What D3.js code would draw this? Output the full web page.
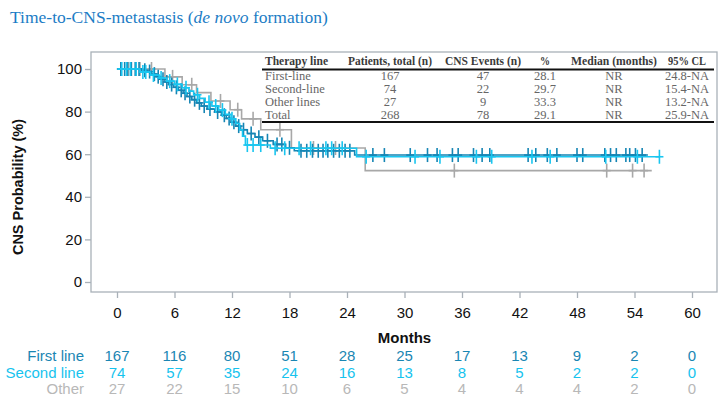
<!DOCTYPE html>
<html><head><meta charset="utf-8">
<script src="https://cdn.jsdelivr.net/npm/d3@7"></script>
<style>
html,body{margin:0;padding:0;background:#fff;}
svg{display:block;}
</style></head>
<body>
<svg id="chart" width="727" height="411"></svg>
<script>
// ---------------- DATA ----------------
const xTicks = [0, 6, 12, 18, 24, 30, 36, 42, 48, 54, 60];
const yTicks = [0, 20, 40, 60, 80, 100];

const seriesNames = ["First line", "Second line", "Other"];

// Kaplan-Meier step points: [month, CNS probability %]
const firstSteps = [[0,100],[2.6,99.4],[3.1,98.8],[3.6,97.6],[4.1,96.4],[4.5,95.2],[5.0,93.9],[5.4,92.7],[5.9,91.4],[6.4,90.0],[6.9,88.6],[7.3,87.1],[7.8,85.6],[8.3,84.1],[8.8,82.6],[9.4,81.2],[10.2,79.8],[10.9,78.3],[11.4,76.8],[11.9,75.0],[12.4,73.2],[12.9,71.5],[13.6,69.7],[14.4,68.0],[15.2,66.3],[16.3,64.6],[17.6,63.0],[18.5,61.6],[24.8,59.6]];
const firstEnd = 55.4;
const secondSteps = [[0,100],[2.4,98.6],[3.5,97.2],[4.4,95.8],[5.2,94.3],[6.0,92.8],[6.8,91.2],[7.5,89.6],[8.0,87.9],[8.6,86.2],[9.2,84.4],[9.9,82.6],[10.6,80.7],[11.3,78.7],[11.9,76.6],[12.4,74.4],[12.8,71.5],[13.1,68.5],[13.4,64.3],[16.0,62.8],[25.0,58.8]];
const secondEnd = 56.6;
const otherSteps = [[0,100],[5.0,96.3],[6.8,92.6],[8.3,88.9],[9.8,85.0],[11.8,80.9],[13.0,76.6],[15.0,71.5],[18.2,62.9],[25.9,52.3]];
const otherEnd = 55.8;

// censoring times (months)
const firstCensor = [0.4,0.8,1.1,1.5,1.9,2.3,2.9,3.4,3.9,4.3,4.8,5.2,5.7,6.2,6.7,7.1,7.6,8.1,8.6,9.1,9.7,10.5,11.2,11.7,12.2,12.7,13.2,14.0,14.8,15.7,16.7,17.2,18.0,19.2,19.8,20.4,21.0,21.5,22.0,22.6,23.2,23.8,24.3,26.7,27.9,30.6,32.4,33.4,35.0,35.6,37.2,38.1,38.9,42.9,43.7,44.9,45.9,48.0,48.6,50.9,51.5,52.1,53.1,53.5,54.1,54.8];
const secondCensor = [0.5,1.0,1.4,2.0,2.7,3.0,3.8,4.6,5.5,6.3,7.2,8.4,9.6,10.3,11.0,12.0,13.6,14.2,15.0,16.5,17.5,19.0,20.2,21.8,22.4,23.5,26.0,31.1,33.7,37.5,39.1,43.3,45.2,51.0,54.3,56.6];
const otherCensor = [1.2,2.4,3.6,5.8,7.8,10.8,12.6,14.2,17.0,20.5,22.8,35.2,51.1,53.8,55.0];

// numbers at risk
const riskFirst = [167,116,80,51,28,25,17,13,9,2,0];
const riskSecond = [74,57,35,24,16,13,8,5,2,2,0];
const riskOther = [27,22,15,10,6,5,4,4,4,2,0];

// summary table
const tableHeaders = ["Therapy line","Patients, total (n)","CNS Events (n)","%","Median (months)","95% CL"];
const tableLines = ["First-line","Second-line","Other lines","Total"];
const tablePatients = ["167","74","27","268"];
const tableEvents = ["47","22","9","78"];
const tablePct = ["28.1","29.7","33.3","29.1"];
const tableMedian = ["NR","NR","NR","NR"];
const tableCL = ["24.8-NA","15.4-NA","13.2-NA","25.9-NA"];

// ---------------- LAYOUT ----------------
const colors = {first:"#1585b4", second:"#19c6f0", other:"#a8a8a8"};
const riskColors = ["#1a86b3","#16c3ee","#b8b8b8"];
const frame = {left:91, top:52, right:717, bottom:292};

const svg = d3.select("#chart");
const x = d3.scaleLinear().domain([0,60]).range([117,692]);
const y = d3.scaleLinear().domain([0,100]).range([282,69]);

// title
const title = svg.append("text").attr("x",10).attr("y",23)
  .attr("font-family","'Liberation Serif', 'DejaVu Serif', serif")
  .attr("font-size",17.5).attr("fill","#1b7cc5");
title.append("tspan").text("Time-to-CNS-metastasis (");
title.append("tspan").attr("font-style","italic").text("de novo");
title.append("tspan").text(" formation)");

// frame
svg.append("rect").attr("x",frame.left).attr("y",frame.top)
  .attr("width",frame.right-frame.left).attr("height",frame.bottom-frame.top)
  .attr("fill","none").attr("stroke","#a9b1b8").attr("stroke-width",1.3);

// axes
const yAxis = svg.append("g").attr("transform",`translate(${frame.left},0)`)
  .call(d3.axisLeft(y).tickValues(yTicks).tickSize(6).tickPadding(3));
const xAxis = svg.append("g").attr("transform",`translate(0,${frame.bottom})`)
  .call(d3.axisBottom(x).tickValues(xTicks).tickSize(6).tickPadding(9));
[yAxis,xAxis].forEach(g=>{
  g.select(".domain").remove();
  g.selectAll(".tick line").attr("stroke","#a9b1b8").attr("stroke-width",1.3);
  g.selectAll(".tick text").attr("font-family","'Liberation Sans', Arial, sans-serif")
    .attr("font-size",15).attr("fill","#111");
});

// axis titles
svg.append("text").attr("transform","translate(23,187) rotate(-90)")
  .attr("text-anchor","middle").attr("font-family","'Liberation Sans', Arial, sans-serif")
  .attr("font-size",14.5).attr("font-weight","bold").attr("fill","#111")
  .text("CNS Probability (%)");
svg.append("text").attr("x",(x(0)+x(60))/2).attr("y",343)
  .attr("text-anchor","middle").attr("font-family","'Liberation Sans', Arial, sans-serif")
  .attr("font-size",15).attr("font-weight","bold").attr("fill","#111")
  .text("Months");

// KM curves
const line = d3.line().x(d=>x(d[0])).y(d=>y(d[1])).curve(d3.curveStepAfter);
function survAt(steps,t){let v=steps[0][1];for(const s of steps){if(s[0]<=t)v=s[1];}return v;}
const series = [
  {steps:otherSteps, end:otherEnd, censor:otherCensor, color:colors.other},
  {steps:firstSteps, end:firstEnd, censor:firstCensor, color:colors.first},
  {steps:secondSteps, end:secondEnd, censor:secondCensor, color:colors.second}
];
series.forEach(s=>{
  const pts = s.steps.concat([[s.end, s.steps[s.steps.length-1][1]]]);
  svg.append("path").attr("d",line(pts)).attr("fill","none")
    .attr("stroke",s.color).attr("stroke-width",1.6);
  svg.append("g").selectAll("line").data(s.censor).join("line")
    .attr("x1",d=>x(d)).attr("x2",d=>x(d))
    .attr("y1",d=>y(survAt(s.steps,d))-7).attr("y2",d=>y(survAt(s.steps,d))+7)
    .attr("stroke",s.color).attr("stroke-width",1.6);
  svg.append("g").selectAll("line").data(s.censor).join("line")
    .attr("x1",d=>x(d)-4).attr("x2",d=>x(d)+4)
    .attr("y1",d=>y(survAt(s.steps,d))).attr("y2",d=>y(survAt(s.steps,d)))
    .attr("stroke",s.color).attr("stroke-width",1.6);
});

// risk table
const riskRows = [riskFirst,riskSecond,riskOther];
const riskY = [361,378,394];
riskRows.forEach((row,i)=>{
  svg.append("text").attr("x",84).attr("y",riskY[i]).attr("text-anchor","end")
    .attr("font-family","'Liberation Sans', Arial, sans-serif").attr("font-size",15)
    .attr("fill",riskColors[i]).text(seriesNames[i]);
  svg.append("g").selectAll("text").data(row).join("text")
    .attr("x",(d,j)=>x(xTicks[j])).attr("y",riskY[i]).attr("text-anchor","middle")
    .attr("font-family","'Liberation Sans', Arial, sans-serif").attr("font-size",15)
    .attr("fill",riskColors[i]).text(d=>d);
});

// summary table
const tbl = svg.append("g");
const colX = [265,390,483,545,614,687];
const headW = [63,84,76,10,86,38];
const colAnchor = ["start","middle","middle","middle","middle","middle"];
const serif = "'Liberation Serif', 'DejaVu Serif', serif";
tbl.append("rect").attr("x",262).attr("y",55).attr("width",452).attr("height",67).attr("fill","#fff");
tbl.selectAll("text.h").data(tableHeaders).join("text").attr("class","h")
  .attr("x",(d,i)=>colX[i]).attr("y",65).attr("text-anchor",(d,i)=>colAnchor[i])
  .attr("font-family",serif).attr("font-size",12.5).attr("font-weight","bold")
  .attr("textLength",(d,i)=>headW[i]).attr("lengthAdjust","spacingAndGlyphs")
  .attr("fill","#3a3a3a").text(d=>d);
tbl.append("line").attr("x1",262).attr("x2",714).attr("y1",69.5).attr("y2",69.5)
  .attr("stroke","#111").attr("stroke-width",2);
const cols = [tableLines,tablePatients,tableEvents,tablePct,tableMedian,tableCL];
const rowY = [79.5,92.5,105.5,118.5];
cols.forEach((col,c)=>{
  tbl.append("g").selectAll("text").data(col).join("text")
    .attr("x",colX[c]).attr("y",(d,r)=>rowY[r]).attr("text-anchor",colAnchor[c])
    .attr("font-family",serif).attr("font-size",12.5).attr("fill","#666").text(d=>d);
});
tbl.append("line").attr("x1",262).attr("x2",714).attr("y1",122).attr("y2",122)
  .attr("stroke","#111").attr("stroke-width",2);
</script>
</body></html>
